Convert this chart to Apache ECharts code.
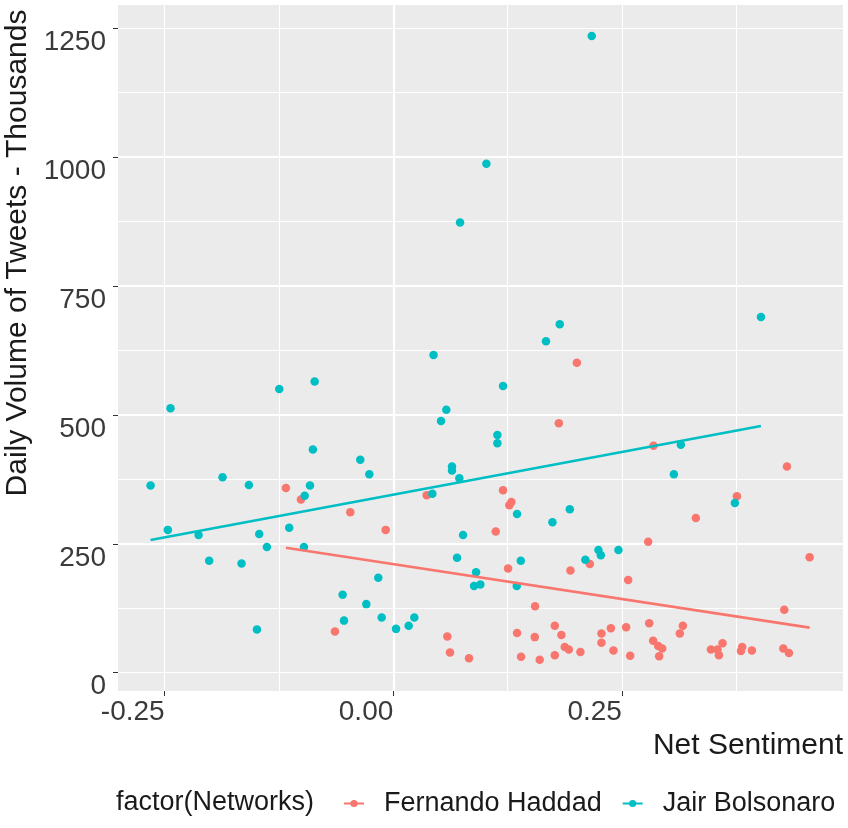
<!DOCTYPE html>
<html>
<head>
<meta charset="utf-8">
<script src="https://cdn.jsdelivr.net/npm/echarts@6/dist/echarts.min.js"></script>
<style>
html,body{margin:0;padding:0;background:#fff;}
#chart{width:848px;height:828px;}
</style>
</head>
<body>
<div id="chart"></div>
<script>
// ---- data ----
const haddadX = [-0.1174,-0.101,-0.047,-0.0083,-0.0638,0.0365,0.2007,0.181,0.2845,0.4304,0.3757,0.3308,0.12,0.1269,0.1291,0.112,0.2787,0.4552,0.1255,0.2149,0.1937,0.2568,0.155,0.4275,0.1766,0.1838,0.0591,0.1353,0.1547,0.2276,0.2379,0.2546,0.2798,0.3166,0.3133,0.2841,0.2896,0.294,0.2907,0.2276,0.2407,0.259,0.1875,0.1919,0.2046,0.1766,0.1601,0.1397,0.062,0.0828,0.3473,0.3545,0.356,0.36,0.3801,0.3815,0.3921,0.4264,0.4326];
const haddadY = [358,336,311,277,80,344,601,484,440,400,342,300,354,325,331,274,254,224,202,211,198,180,129,122,91,73,70,77,69,76,86,88,96,91,76,62,52,47,32,58,43,33,50,45,40,34,25,31,39,28,45,45,34,57,42,50,43,47,38];
const bolsoX = [0.217,0.1018,0.073,0.402,0.182,0.167,0.044,-0.2436,-0.1247,-0.086,-0.2654,-0.1867,-0.1579,-0.0879,-0.0361,-0.0262,-0.0911,-0.0969,-0.2465,-0.2129,-0.1466,-0.1138,-0.1382,-0.0977,-0.2013,-0.1659,-0.1491,-0.0164,-0.0554,-0.0295,-0.0539,-0.0127,0.003,0.0168,0.023,0.0427,0.12,0.058,0.0522,0.1138,0.1138,0.0642,0.0642,0.0722,0.3144,0.3068,0.3735,0.1353,0.174,0.193,0.0763,0.0697,0.1394,0.0905,0.0883,0.0952,0.135,0.21,0.2243,0.2269,0.2462];
const bolsoY = [1235,987,873,690,676,643,616,513,550,565,363,379,364,433,413,385,363,343,277,267,269,281,244,244,217,212,84,184,151,133,101,107,85,91,107,347,556,510,488,461,445,400,392,377,442,385,329,308,292,317,267,223,217,195,168,171,168,219,238,228,238];
// fitted lines (endpoints)
const haddadFitX = [-0.1174, 0.4552];
const haddadFitY = [242.4, 87.3];
const bolsoFitX = [-0.2654, 0.402];
const bolsoFitY = [257.4, 478.5];
// tick labels
const xTicks = [-0.25, 0, 0.25];
const yTicks = [0, 250, 500, 750, 1000, 1250];
const names = ['Fernando Haddad', 'Jair Bolsonaro'];

const zip = (a, b) => a.map((v, i) => [v, b[i]]);
const RED = '#F8766D', TEAL = '#00BFC4';
const FONT = '"Liberation Sans", Arial, sans-serif';

const chart = echarts.init(document.getElementById('chart'));
const xMin = -0.301, xMax = 0.4917, yMin = -35.5, yMax = 1295;

chart.setOption({
  animation: false,
  textStyle: { fontFamily: FONT },
  title: {
    text: 'factor(Networks)', left: 116, top: 789, padding: 0,
    textStyle: { fontSize: 27, fontWeight: 'normal', color: '#1a1a1a', fontFamily: FONT }
  },
  legend: {
    data: names, left: 343, top: 790, padding: 0,
    itemWidth: 20, itemHeight: 9, itemGap: 20,
    textStyle: { fontSize: 27, color: '#1a1a1a', fontFamily: FONT, padding: [0, 0, 0, 15] }
  },
  grid: { left: 118, right: 5, top: 5, bottom: 137, show: true, backgroundColor: '#EBEBEB', borderWidth: 0, containLabel: false, outerBoundsMode: 'none' },
  xAxis: [
    {
      type: 'value', min: xMin, max: xMax, minInterval: 0.25, maxInterval: 0.25, position: 'bottom',
      axisLine: { show: false, onZero: false },
      axisTick: { show: true, customValues: xTicks, length: 5, lineStyle: { color: '#333', width: 1 } },
      axisLabel: { customValues: xTicks, formatter: v => v.toFixed(2), fontSize: 28, color: '#3a3a3a', align: 'right', margin: 7, fontFamily: FONT },
      splitLine: { show: true, showMinLine: false, showMaxLine: false, lineStyle: { color: '#ffffff', width: 2.2 } },
      name: 'Net Sentiment', nameLocation: 'end', nameGap: 0,
      nameTextStyle: { fontSize: 30, color: '#1a1a1a', align: 'right', verticalAlign: 'top', padding: [40, 0, 0, 0], fontFamily: FONT }
    },
    {
      type: 'value', min: xMin, max: xMax, minInterval: 0.125, maxInterval: 0.125,
      axisLine: { show: false, onZero: false }, axisTick: { show: false }, axisLabel: { show: false },
      splitLine: { show: true, showMinLine: false, showMaxLine: false, lineStyle: { color: '#ffffff', width: 1.1 } }
    }
  ],
  yAxis: [
    {
      type: 'value', min: yMin, max: yMax, minInterval: 250, maxInterval: 250, position: 'left',
      axisLine: { show: false, onZero: false },
      axisTick: { show: true, customValues: yTicks, length: 5, lineStyle: { color: '#333', width: 1 } },
      axisLabel: { customValues: yTicks, formatter: v => String(v), fontSize: 28, color: '#3a3a3a', verticalAlign: 'top', margin: 12, fontFamily: FONT },
      splitLine: { show: true, showMinLine: false, showMaxLine: false, lineStyle: { color: '#ffffff', width: 2.2 } },
      name: 'Daily Volume of Tweets - Thousands', nameLocation: 'middle', nameRotate: 90, nameGap: 80,
      nameTextStyle: { fontSize: 30, color: '#1a1a1a', padding: [0, 0, 0, 190], fontFamily: FONT }
    },
    {
      type: 'value', min: yMin, max: yMax, minInterval: 125, maxInterval: 125, position: 'right',
      axisLine: { show: false, onZero: false }, axisTick: { show: false }, axisLabel: { show: false },
      splitLine: { show: true, showMinLine: false, showMaxLine: false, lineStyle: { color: '#ffffff', width: 1.1 } }
    }
  ],
  series: [
    {
      name: names[0], type: 'line', xAxisIndex: 0, yAxisIndex: 0, data: zip(haddadFitX, haddadFitY),
      showSymbol: false, symbol: 'circle', symbolSize: 8, z: 5,
      lineStyle: { color: RED, width: 2.7 }, itemStyle: { color: RED }
    },
    {
      name: names[1], type: 'line', xAxisIndex: 0, yAxisIndex: 0, data: zip(bolsoFitX, bolsoFitY),
      showSymbol: false, symbol: 'circle', symbolSize: 8, z: 5,
      lineStyle: { color: TEAL, width: 2.7 }, itemStyle: { color: TEAL }
    },
    {
      name: names[0], type: 'scatter', xAxisIndex: 0, yAxisIndex: 0, data: zip(haddadX, haddadY),
      symbolSize: 8.5, itemStyle: { color: RED, opacity: 1 }, z: 3
    },
    {
      name: names[1], type: 'scatter', xAxisIndex: 0, yAxisIndex: 0, data: zip(bolsoX, bolsoY),
      symbolSize: 8.5, itemStyle: { color: TEAL, opacity: 1 }, z: 3
    }
  ]
});
</script>
</body>
</html>
